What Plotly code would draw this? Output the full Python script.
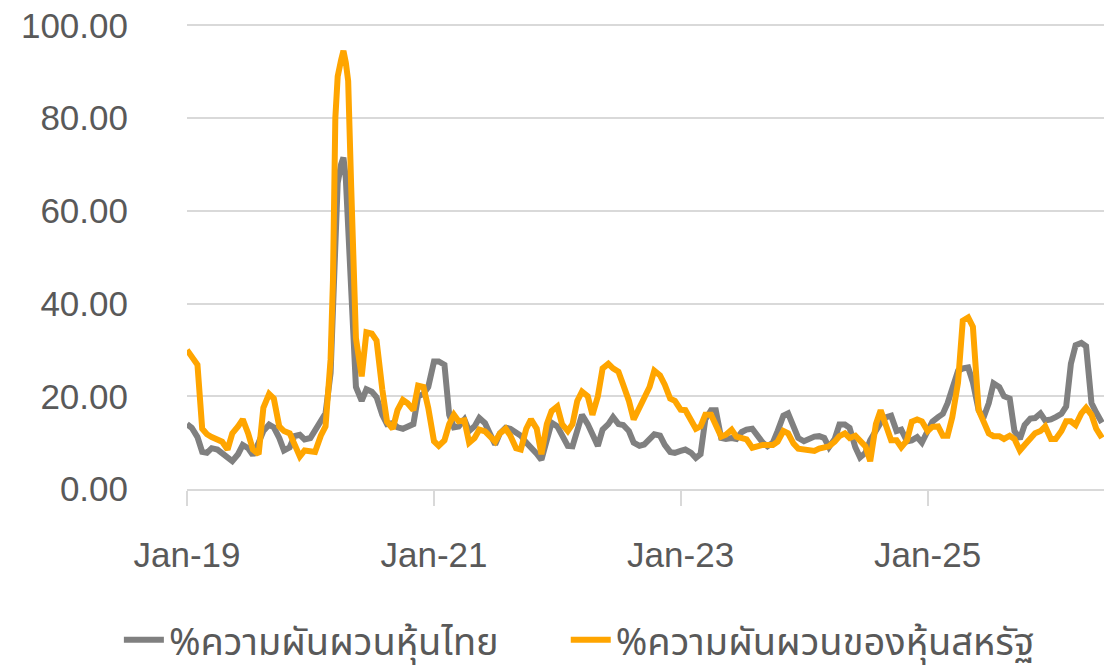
import plotly.graph_objects as go
import pandas as pd

# Half-monthly readings (1st and 15th of each month), Jan-2019 .. Jun-2026
thai_vol = [
    14.0, 13.2, 11.2, 8.0, 7.8, 8.8, 8.5, 7.8, 6.8, 6.0,      # k0-9
    7.5, 9.5, 8.8, 7.3, 10.0, 12.5, 13.9, 13.3, 11.0, 8.3,    # k10-19
    9.0, 11.4, 11.7, 10.7, 11.0, 12.8, 14.5, 16.3, 25.0, 58.0,  # k20-29
    70.0, 67.0, 40.0, 22.0, 19.0, 21.5, 21.0, 19.8, 16.0, 14.0,  # k30-39
    14.2, 13.3, 13.0, 13.3, 14.0, 20.0, 20.5, 22.0, 27.5, 27.5,  # k40-49
    26.8, 16.0, 13.3, 13.5, 15.0, 12.5, 13.5, 15.3, 14.2, 12.0,  # k50-59
    9.6, 12.0, 13.2, 13.0, 12.2, 11.5, 10.0, 9.0, 7.6, 6.3,      # k60-69
    10.0, 14.3, 13.5, 11.3, 9.3, 9.2, 12.6, 16.0, 14.0, 12.0,    # k70-79
    9.3, 12.8, 14.0, 15.5, 14.0, 13.8, 12.5, 10.0, 9.3, 9.6,     # k80-89
    11.0, 11.8, 11.5, 9.5, 8.0, 7.8, 8.2, 8.5, 7.8, 6.7,         # k90-99
    7.5, 15.0, 17.0, 17.0, 11.0, 10.8, 11.0, 10.8, 12.3, 12.8,   # k100-109
    13.0, 11.5, 10.0, 9.2, 10.0, 12.5, 15.8, 16.3, 13.5, 11.0,   # k110-119
    10.3, 10.8, 11.3, 11.4, 11.0, 9.0, 10.8, 13.9, 13.9, 13.2,   # k120-129
    9.0, 6.8, 7.8, 10.5, 12.5, 14.3, 15.5, 15.8, 12.5, 12.8,     # k130-139
    10.3, 10.5, 11.2, 10.0, 12.5, 14.5, 15.5, 16.2, 18.5, 21.8,  # k140-149
    25.5, 26.0, 26.2, 23.0, 17.0, 15.3, 18.5, 22.8, 22.0, 20.0,  # k150-159
    19.5, 12.5, 10.8, 13.8, 15.2, 15.3, 16.3, 14.8, 15.0, 15.5,  # k160-169
    16.2, 17.8, 27.0, 31.0, 31.5, 30.8, 18.5, 16.5, 14.3,        # k170-178
]
us_vol = [
    30.0, 28.5, 26.8, 13.0, 11.8, 11.2, 10.6, 10.2, 8.5, 12.0,   # k0-9
    13.5, 15.0, 12.0, 8.5, 7.5, 17.5, 20.5, 19.5, 13.5, 12.5,    # k10-19
    12.0, 9.5, 7.0, 8.3, 8.0, 8.0, 11.5, 13.5, 28.0, 80.0,       # k20-29
    92.5, 92.0, 65.0, 32.5, 24.3, 33.8, 33.5, 32.0, 21.5, 14.5,  # k30-39
    13.0, 17.0, 19.2, 18.5, 17.0, 22.3, 22.0, 17.5, 10.3, 9.3,   # k40-49
    10.5, 14.0, 16.0, 14.6, 14.8, 10.0, 11.0, 12.8, 12.4, 11.5,  # k50-59
    10.2, 12.0, 13.0, 11.5, 8.8, 8.5, 13.0, 15.0, 13.0, 7.5,     # k60-69
    14.0, 16.8, 17.8, 14.0, 12.5, 14.0, 19.0, 21.0, 20.0, 16.0,  # k70-79
    20.0, 26.0, 27.0, 26.0, 25.3, 22.5, 19.0, 15.0, 17.5, 19.3,  # k80-89
    22.0, 25.5, 24.5, 22.5, 19.5, 19.0, 17.1, 17.0, 15.0, 13.0,  # k90-99
    13.5, 16.0, 16.0, 13.5, 11.3, 11.7, 12.8, 11.3, 11.0, 10.7,  # k100-109
    8.9, 9.2, 9.5, 9.5, 9.5, 10.2, 12.5, 12.0, 9.8, 8.7,         # k110-119
    8.5, 8.4, 8.2, 8.7, 8.8, 9.2, 10.2, 11.4, 12.0, 11.0,        # k120-129
    11.5, 10.2, 9.2, 6.0, 14.0, 17.0, 13.3, 10.5, 10.5, 9.0,     # k130-139
    10.5, 14.5, 15.0, 14.6, 12.5, 13.4, 13.5, 11.5, 11.5, 15.5,  # k140-149
    23.0, 36.3, 37.0, 35.0, 17.0, 14.8, 12.0, 11.4, 11.4, 10.8,  # k150-159
    11.5, 10.8, 8.3, 9.5, 11.0, 12.0, 12.5, 13.5, 10.8, 10.8,    # k160-169
    12.5, 14.6, 14.6, 13.8, 16.3, 17.5, 16.0, 13.0, 11.0,        # k170-178
]
# Extra readings around the Covid-19 spike
spike_dates = ["2020-03-08", "2020-03-22", "2020-04-08", "2020-04-22", "2020-05-08"]
spike_thai = [38.0, 66.0, 71.5, 55.0, 28.0]
spike_us = [45.0, 89.0, 94.5, 88.0, 50.0]

series_names = ["%ความผันผวนหุ้นไทย", "%ความผันผวนของหุ้นสหรัฐ"]
x_tickvals = ["2019-01-01", "2021-01-01", "2023-01-01", "2025-01-01"]
x_ticktext = ["Jan-19", "Jan-21", "Jan-23", "Jan-25"]
y_tickvals = [0, 20, 40, 60, 80, 100]
y_ticktext = ["0.00", "20.00", "40.00", "60.00", "80.00", "100.00"]

assert len(thai_vol) == len(us_vol)
grid = [pd.Timestamp(2019 + (i // 2) // 12, (i // 2) % 12 + 1, 1 if i % 2 == 0 else 15)
        for i in range(len(thai_vol))]
df = pd.DataFrame({"date": grid + list(pd.to_datetime(spike_dates)),
                   "thai": thai_vol + spike_thai,
                   "us": us_vol + spike_us}).sort_values("date")

fig = go.Figure()
fig.add_trace(go.Scatter(x=df["date"], y=df["thai"], mode="lines", name=series_names[0],
                         line=dict(color="#808080", width=6), legend="legend"))
fig.add_trace(go.Scatter(x=df["date"], y=df["us"], mode="lines", name=series_names[1],
                         line=dict(color="#FFA500", width=6), legend="legend2"))

tick_font = dict(family="Liberation Sans, Arial, sans-serif", size=35, color="#595959")
legend_font = dict(family="Noto Sans Thai, Noto Sans, sans-serif", size=38, color="#595959")
# the page body adds an 8px offset, compensated in the margins
fig.update_layout(
    width=1120, height=665,
    margin=dict(l=179, r=24, t=14.7, b=184, autoexpand=False),
    plot_bgcolor="white", paper_bgcolor="white",
    showlegend=True,
    legend=dict(orientation="h", xref="container", yref="paper",
                x=0.099, y=-0.324, xanchor="left", yanchor="middle",
                font=legend_font, itemwidth=40, maxheight=0.4),
    legend2=dict(orientation="h", xref="container", yref="paper",
                 x=0.498, y=-0.324, xanchor="left", yanchor="middle",
                 font=legend_font, itemwidth=40, maxheight=0.4),
    xaxis=dict(type="date", range=["2019-01-01", "2026-06-07"], automargin=False,
               tickvals=x_tickvals, ticktext=x_ticktext, tickfont=tick_font,
               showgrid=False, showline=True, linecolor="#d9d9d9", linewidth=1.5,
               ticks="outside", ticklen=15, tickcolor="#d9d9d9", tickwidth=1.5,
               ticklabelstandoff=19, zeroline=False, ticklabeloverflow="allow"),
    yaxis=dict(range=[0, 100.5], tickvals=y_tickvals, ticktext=y_ticktext, tickfont=tick_font,
               automargin=False, ticklabeloverflow="allow",
               showgrid=True, gridcolor="#d9d9d9", gridwidth=1.5, zeroline=False,
               showline=False, ticks="", ticklabelstandoff=58),
)
fig.write_html("out.html")
